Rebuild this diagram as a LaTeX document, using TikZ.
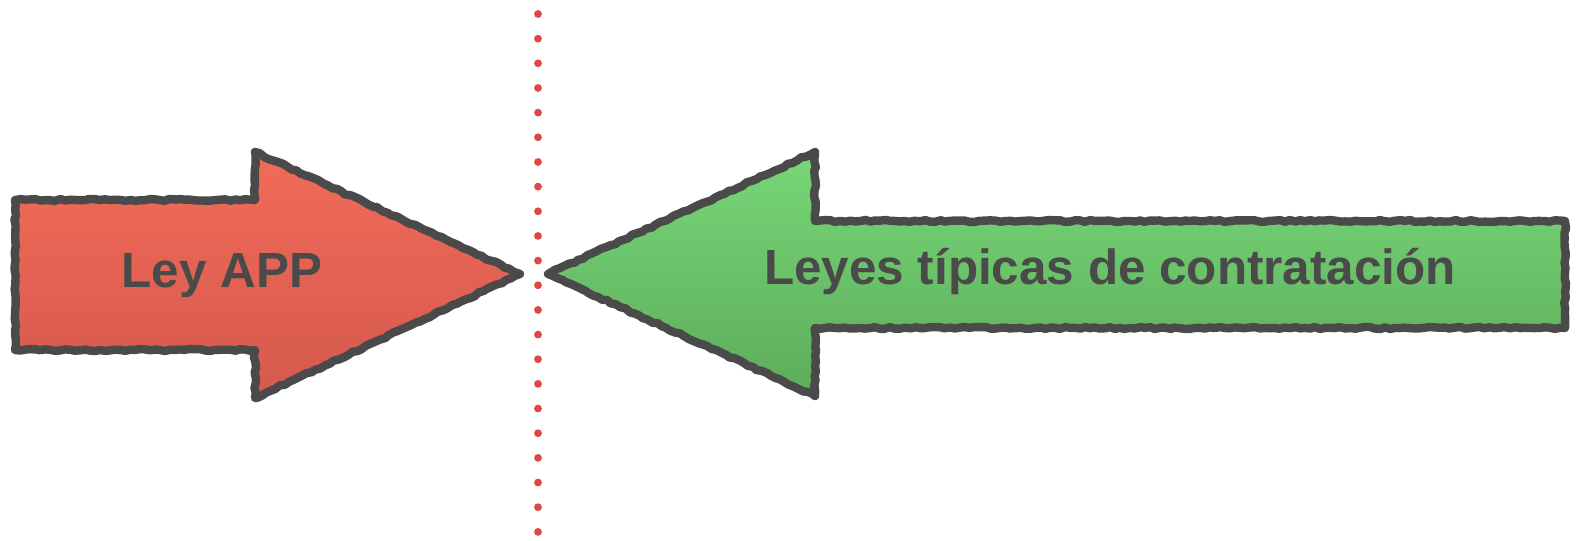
\documentclass[tikz,border=0pt]{standalone}
\usepackage{fontspec}
\setmainfont{Liberation Sans}
\usetikzlibrary{decorations.pathmorphing}

\definecolor{ink}{HTML}{4A4A4A}
\definecolor{dotred}{HTML}{E04646}
\definecolor{redtop}{HTML}{F36B58}
\definecolor{redbot}{HTML}{D4594D}
\definecolor{greentop}{HTML}{78D778}
\definecolor{greenbot}{HTML}{5DAC5A}

\begin{document}
\begin{tikzpicture}[x=0.5pt, y=-0.5pt,
    sketch/.style = {draw=ink, line width=4.2pt, line join=round,
                     decoration={random steps, segment length=2.5pt, amplitude=0.5pt}, decorate},
    rough/.style = {draw=ink, line width=1pt, line join=round,
                    decoration={random steps, segment length=1.5pt, amplitude=1.3pt}, decorate},
    label/.style = {text=ink, font=\bfseries\fontsize{24.7}{30}\selectfont, inner sep=0pt}]
    \useasboundingbox (0,0) rectangle (1577,540);

    % divider
    \coordinate (top) at (538,14);
    \coordinate (bot) at (538,532);
    \draw[dotred, line width=3.9pt, line cap=round, dash pattern=on 0pt off 12.33pt] (top) -- (bot);

    % left arrow
    \path[top color=redtop, bottom color=redbot, sketch]
        (15,200) -- (255,200) -- (255,152) -- (520,274) -- (255,398) -- (255,350) -- (15,350) -- cycle;
    \draw[rough]
        (15,200) -- (255,200) -- (255,152) -- (520,274) -- (255,398) -- (255,350) -- (15,350) -- cycle;
    \node[label](app) at (222,276) {Ley APP};

    % right arrow
    \path[top color=greentop, bottom color=greenbot, sketch]
        (1565,221) -- (815,221) -- (815,152) -- (548,274) -- (815,396) -- (815,328) -- (1565,328) -- cycle;
    \draw[rough]
        (1565,221) -- (815,221) -- (815,152) -- (548,274) -- (815,396) -- (815,328) -- (1565,328) -- cycle;
    \node[label](typ) at (1110,272) {Leyes típicas de contratación};
\end{tikzpicture}
\end{document}
